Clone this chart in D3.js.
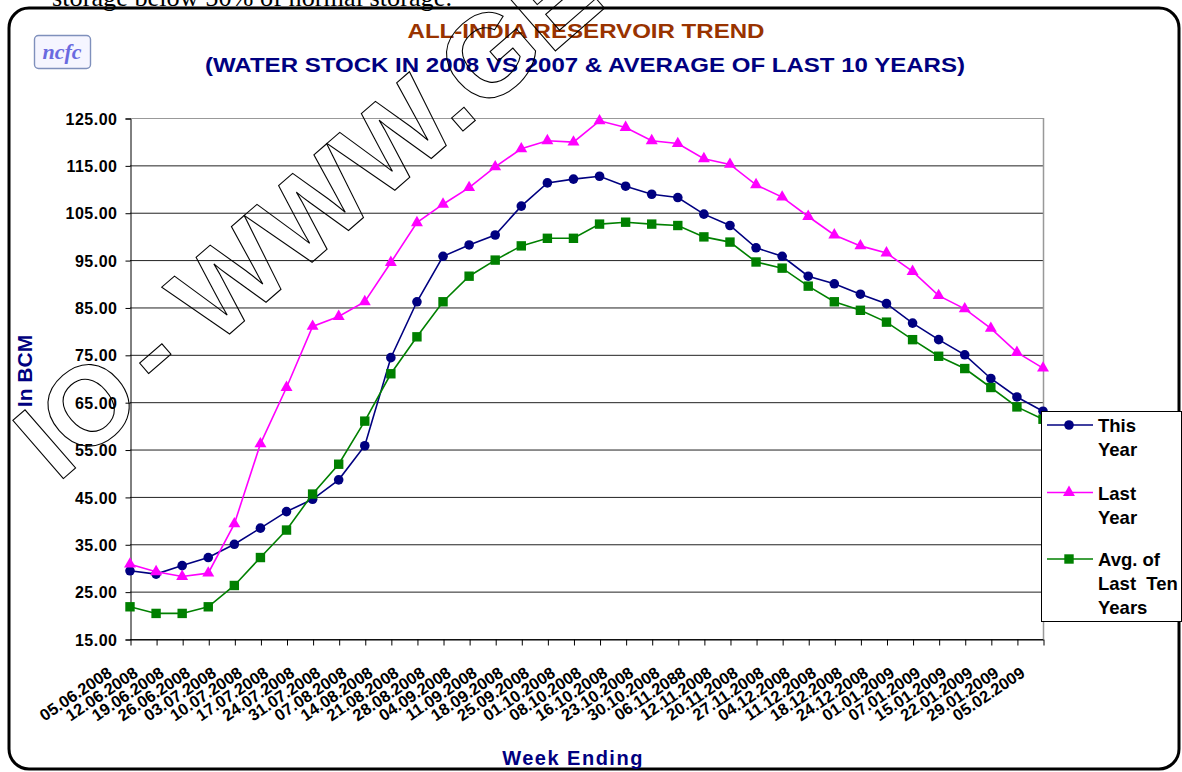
<!DOCTYPE html>
<html><head><meta charset="utf-8">
<script src="https://cdn.jsdelivr.net/npm/d3@7"></script>
<style>
body{margin:0;background:#fff}
svg{display:block}
text{font-family:"Liberation Sans",Arial,Helvetica,sans-serif}
</style>
</head><body>
<svg id="c" width="1182" height="772"></svg>
<script>
// ---------- data ----------
const weeks = ["05.06.2008","12.06.2008","19.06.2008","26.06.2008","03.07.2008","10.07.2008","17.07.2008","24.07.2008","31.07.2008","07.08.2008","14.08.2008","21.08.2008","28.08.2008","04.09.2008","11.09.2008","18.09.2008","25.09.2008","01.10.2008","08.10.2008","16.10.2008","23.10.2008","30.10.2008","06.11.2088","12.11.2008","20.11.2008","27.11.2008","04.12.2008","11.12.2008","18.12.2008","24.12.2008","01.01.2009","07.01.2009","15.01.2009","22.01.2009","29.01.2009","05.02.2009"];
const thisYear = [29.4,28.7,30.5,32.2,35.0,38.4,41.9,44.5,48.6,55.8,74.4,86.2,95.8,98.2,100.3,106.4,111.3,112.1,112.7,110.6,108.9,108.2,104.7,102.3,97.6,95.8,91.6,90.0,87.8,85.8,81.7,78.2,75.0,70.0,66.1,63.1];
const lastYear = [30.8,29.2,28.2,28.9,39.3,56.2,68.1,81.0,83.1,86.2,94.5,102.9,106.8,110.3,114.7,118.5,120.2,119.9,124.4,123.0,120.2,119.6,116.4,115.2,110.9,108.3,104.2,100.3,98.0,96.5,92.6,87.5,84.7,80.6,75.5,72.2];
const avgTenYears = [21.8,20.4,20.4,21.8,26.3,32.2,38.0,45.6,51.9,61.0,71.0,78.8,86.2,91.6,95.0,98.0,99.6,99.6,102.6,103.0,102.6,102.3,99.9,98.8,94.6,93.3,89.5,86.2,84.4,81.9,78.2,74.7,72.1,68.1,64.0,61.4];
const yTickValues = [15,25,35,45,55,65,75,85,95,105,115,125];
const seriesNames = ["This Year","Last Year","Avg. of Last Ten Years"];
const legendLines = [["This","Year"],["Last","Year"],["Avg. of","Last  Ten","Years"]];
const titleLine1 = "ALL-INDIA RESERVOIR TREND";
const titleLine2 = "(WATER STOCK IN 2008 VS 2007 & AVERAGE OF LAST 10 YEARS)";
const yTitle = "In BCM";
const xTitle = "Week Ending";

// ---------- setup ----------
const svg = d3.select("#c");
const W = 1182, H = 772;
const plot = {left:130, right:1043, top:118, bottom:639};
const x = d3.scalePoint().domain(weeks).range([plot.left, plot.right]);
const y = d3.scaleLinear().domain([15,125]).range([plot.bottom, plot.top]);

const series = [
  {name:seriesNames[0], values:thisYear, color:"#000080", marker:"circle"},
  {name:seriesNames[1], values:lastYear, color:"#FF00FF", marker:"triangle"},
  {name:seriesNames[2], values:avgTenYears, color:"#008000", marker:"square"}
];

svg.append("rect").attr("width",W).attr("height",H).attr("fill","#fff");

// cut text line above frame
svg.append("text").attr("x",52).attr("y",6)
  .style("font-family","'Liberation Serif','Times New Roman',serif")
  .attr("font-size",26).attr("textLength",400).attr("lengthAdjust","spacingAndGlyphs")
  .attr("fill","#000").text("storage below 50% of normal storage.");

// outer frame
svg.append("rect").attr("x",9).attr("y",8).attr("width",1170).attr("height",761)
  .attr("rx",20).attr("fill","none").attr("stroke","#000").attr("stroke-width",3);

// logo
svg.append("rect").attr("x",34.5).attr("y",35.5).attr("width",56).attr("height",33).attr("rx",4)
  .attr("fill","#f5f5ff").attr("stroke","#7f90bc").attr("stroke-width",1.4);
svg.append("text").attr("x",62).attr("y",59).attr("text-anchor","middle")
  .style("font-family","'Liberation Serif','Times New Roman',serif")
  .attr("font-style","italic").attr("font-weight","bold").attr("font-size",22).attr("fill","#6a6ae0").text("ncfc");

// titles
svg.append("text").attr("x",586).attr("y",38).attr("text-anchor","middle")
  .attr("font-size",21).attr("font-weight","bold").attr("fill","#993300")
  .attr("textLength",357).attr("lengthAdjust","spacingAndGlyphs").text(titleLine1);
svg.append("text").attr("x",585).attr("y",72).attr("text-anchor","middle")
  .attr("font-size",21).attr("font-weight","bold").attr("fill","#000080")
  .attr("textLength",760).attr("lengthAdjust","spacingAndGlyphs").text(titleLine2);

// gridlines
svg.append("g").selectAll("line").data(yTickValues).join("line")
  .attr("x1",plot.left).attr("x2",plot.right)
  .attr("y1",d=>y(d)+0.5).attr("y2",d=>y(d)+0.5)
  .attr("stroke",d=>d===125?"#999":"#222").attr("stroke-width",1);
// plot right border
svg.append("line").attr("x1",plot.right+0.5).attr("x2",plot.right+0.5)
  .attr("y1",plot.top).attr("y2",plot.bottom).attr("stroke","#999").attr("stroke-width",1.5);

// y axis
const yAxis = svg.append("g").attr("transform",`translate(${plot.left+0.5},0.5)`)
  .call(d3.axisLeft(y).tickValues(yTickValues).tickFormat(d3.format(".2f")).tickSize(5).tickPadding(8));
yAxis.select(".domain").attr("stroke","#000");
yAxis.selectAll(".tick line").attr("stroke","#000");
yAxis.selectAll(".tick text").attr("font-size",16).attr("font-weight","bold")
  .attr("fill","#000").style("font-family","'Liberation Sans',Arial,sans-serif")
  .attr("letter-spacing","0.5px").attr("dy","0.35em");

// x axis
const xAxis = svg.append("g").attr("transform",`translate(0.5,${plot.bottom+0.5})`)
  .call(d3.axisBottom(x).tickSize(6).tickSizeOuter(0));
xAxis.select(".domain").attr("stroke","#000");
xAxis.selectAll(".tick line").attr("stroke","#000");
xAxis.selectAll(".tick text")
  .attr("font-size",16.5).attr("font-weight","bold").attr("fill","#000")
  .style("font-family","'Liberation Sans',Arial,sans-serif")
  .attr("text-anchor","end").attr("y",null).attr("dy",null)
  .attr("transform","translate(-18,36) rotate(-34)");

// axis titles
svg.append("text").attr("transform","translate(32,371) rotate(-90)")
  .attr("text-anchor","middle").attr("font-size",21).attr("font-weight","bold")
  .attr("fill","#000080").text(yTitle);
svg.append("text").attr("x",573).attr("y",765).attr("text-anchor","middle")
  .attr("font-size",20).attr("font-weight","bold").attr("fill","#000080")
  .attr("letter-spacing","1.5px").text(xTitle);

// series
const line = d3.line().x((d,i)=>x(weeks[i])).y(d=>y(d));
function drawMarker(g, type, color){
  if(type==="circle") return g.append("circle").attr("r",4.8).attr("fill",color);
  if(type==="square") return g.append("rect").attr("x",-4.7).attr("y",-4.7).attr("width",9.4).attr("height",9.4).attr("fill",color);
  return g.append("path").attr("d",d3.symbol(d3.symbolTriangle).size(62)()).attr("fill",color);
}
series.forEach(s=>{
  const g = svg.append("g");
  g.append("path").attr("d",line(s.values)).attr("fill","none")
    .attr("stroke",s.color).attr("stroke-width",1.6);
  s.values.forEach((v,i)=>{
    const mg = g.append("g").attr("transform",`translate(${x(weeks[i])},${y(v)})`);
    drawMarker(mg, s.marker, s.color);
  });
});

// watermark (outlined diagonal text)
const wm = svg.append("g").attr("transform","translate(160.5,394) rotate(-41)")
  .attr("fill","none").attr("stroke","#000").attr("stroke-width",1.1);
wm.append("text").attr("x",-18).attr("y",0).attr("text-anchor","end")
  .attr("font-size",112).attr("font-weight","bold").text("IO");
wm.append("text").attr("x",0).attr("y",0).attr("text-anchor","start")
  .attr("font-size",116).attr("font-weight","bold").text("- WWW.GE");

// legend
const lg = svg.append("g");
lg.append("rect").attr("x",1041.5).attr("y",411.5).attr("width",140).attr("height",210)
  .attr("fill","#fff").attr("stroke","#000").attr("stroke-width",1);
const legendY = [425, 492.5, 559];
series.forEach((s,k)=>{
  const ly = legendY[k];
  lg.append("line").attr("x1",1047).attr("x2",1093).attr("y1",ly).attr("y2",ly)
    .attr("stroke",s.color).attr("stroke-width",1.6);
  const mg = lg.append("g").attr("transform",`translate(1069,${ly})`);
  drawMarker(mg, s.marker, s.color);
  legendLines[k].forEach((t,j)=>{
    lg.append("text").attr("x",1098).attr("y",ly+7+j*24)
      .attr("font-size",18.5).attr("font-weight","bold").attr("fill","#000")
      .style("white-space","pre").text(t);
  });
});
</script>
</body></html>
